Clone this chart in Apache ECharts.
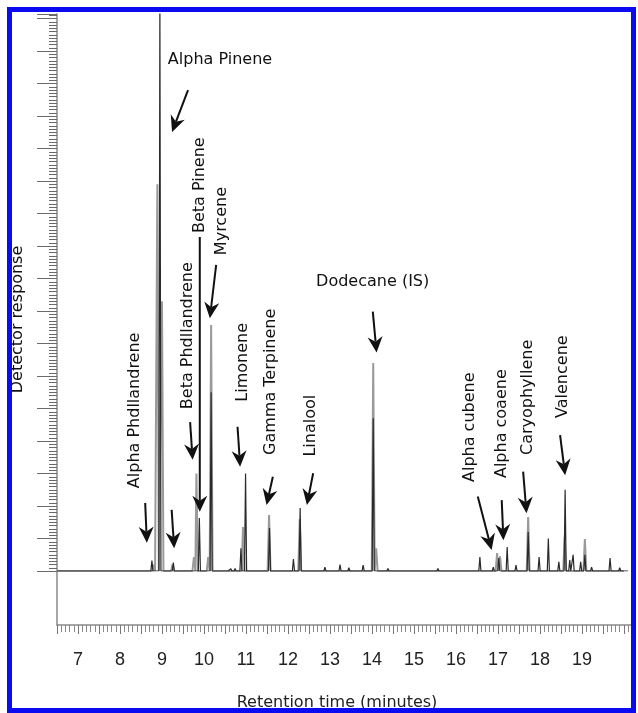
<!DOCTYPE html>
<html>
<head>
<meta charset="utf-8">
<script src="https://cdn.jsdelivr.net/npm/echarts@6/dist/echarts.min.js"></script>
<style>
html,body{margin:0;padding:0;background:#fff;}
#chart{width:638px;height:713px;}
</style>
</head>
<body>
<div id="chart"></div>
<script>
// ---- Tick labels (retention time, minutes) ----
const xTickLabels = [7, 8, 9, 10, 11, 12, 13, 14, 15, 16, 17, 18, 19];

// ---- Chromatogram traces: peak retention times (min) and heights (detector units) ----
const blackPeakTimes   = [8.76, 8.95, 9.27, 9.89, 10.17, 10.55, 10.64, 10.74, 10.88, 10.99, 11.56, 12.13, 12.29, 12.88, 13.24, 13.45, 13.79, 14.03, 14.38, 15.57, 16.57, 16.89, 17.02, 17.22, 17.43, 17.72, 17.98, 18.20, 18.45, 18.60, 18.71, 18.79, 18.97, 19.07, 19.23, 19.67, 19.90];
const blackPeakHeights = [0.32, 17.6, 0.26, 1.63, 5.5, 0.05, 0.07, 0.08, 0.7, 3.0, 1.32, 0.37, 1.94, 0.12, 0.2, 0.1, 0.18, 4.7, 0.08, 0.08, 0.43, 0.12, 0.4, 0.74, 0.18, 1.2, 0.43, 1.0, 0.28, 2.5, 0.34, 0.5, 0.28, 0.5, 0.12, 0.4, 0.1];

const greyPeakTimes   = [8.80, 8.89, 9.00, 9.25, 9.76, 9.82, 10.10, 10.17, 10.93, 11.55, 12.28, 14.03, 14.10, 16.98, 17.05, 17.72, 18.59, 19.07];
const greyPeakHeights = [0.2, 11.9, 8.3, 0.2, 0.43, 3.0, 0.43, 7.57, 1.35, 1.72, 1.6, 6.4, 0.7, 0.55, 0.45, 1.66, 1.05, 0.98];

// ---- Compound annotations ----
const compoundNames = ['Alpha Pinene', 'Beta Pinene', 'Myrcene', 'Beta Phdllandrene', 'Alpha Phdllandrene', 'Limonene', 'Gamma Terpinene', 'Linalool', 'Dodecane (IS)', 'Alpha cubene', 'Alpha coaene', 'Caryophyllene', 'Valencene'];
const labelTimes    = [9.14, 9.90, 10.43, 9.62, 8.36, 10.93, 11.60, 12.55, 12.67, 16.33, 17.10, 17.71, 18.55];
const labelLevels   = [15.72, 10.4, 9.72, 4.98, 2.55, 5.21, 3.57, 3.52, 8.89, 2.74, 2.86, 3.57, 4.71];
const labelVertical = [false, true, true, true, true, true, true, true, false, true, true, true, true];

// ---- Arrows (from -> to, in data units) ----
const arrowFromTimes  = [9.62, 9.90, 10.29, 9.67, 8.60, 9.23, 10.80, 11.64, 12.60, 14.02, 16.52, 17.09, 17.60, 18.48];
const arrowFromLevels = [14.8, 10.28, 9.42, 4.58, 2.09, 1.88, 4.44, 2.90, 3.01, 7.98, 2.29, 2.18, 3.06, 4.18];
const arrowToTimes    = [9.24, 9.90, 10.14, 9.73, 8.64, 9.29, 10.86, 11.49, 12.45, 14.11, 16.85, 17.13, 17.68, 18.60];
const arrowToLevels   = [13.51, 1.82, 7.78, 3.42, 0.87, 0.70, 3.21, 2.03, 2.03, 6.72, 0.65, 0.95, 1.78, 2.95];

const X_MIN = 6.5, X_MAX = 20.24, Y_MAX = 17.14;

function buildTrace(times, heights, halfWidth, start, end) {
  const order = times.map((t, i) => i).sort((a, b) => times[a] - times[b]);
  const pts = [[start, 0]];
  order.forEach(i => {
    pts.push([times[i] - halfWidth, 0], [times[i], heights[i]], [times[i] + halfWidth, 0]);
  });
  pts.push([end, 0]);
  return pts;
}

const chart = echarts.init(document.getElementById('chart'), null, {renderer: 'canvas'});

const option = {
  animation: false,
  backgroundColor: '#fff',
  grid: [
    {left: 57, top: 14, right: 4, bottom: 142, outerBoundsMode: 'none', containLabel: false},
    {left: 57, top: 14, right: 4, bottom: 88, outerBoundsMode: 'none', containLabel: false}
  ],
  xAxis: [
    {gridIndex: 0, type: 'value', min: X_MIN, max: X_MAX, show: false},
    {
      gridIndex: 1, type: 'value', min: X_MIN, max: X_MAX, interval: 0.5,
      axisLine: {show: true, onZero: false, lineStyle: {color: '#8a8a8a', width: 1.5}},
      axisTick: {show: true, inside: false, length: 9, lineStyle: {color: '#777'}},
      minorTick: {show: true, splitNumber: 5, length: 7, lineStyle: {color: '#8a8a8a'}},
      splitLine: {show: false},
      axisLabel: {
        margin: 26, fontFamily: 'Liberation Sans', fontSize: 18, color: '#222',
        formatter: v => {
          const r = Math.round(v);
          return (Math.abs(v - r) < 1e-6 && xTickLabels.indexOf(r) >= 0) ? String(r) : '';
        }
      },
      name: 'Retention time (minutes)', nameLocation: 'middle', nameGap: 70,
      nameTextStyle: {fontFamily: 'DejaVu Sans', fontSize: 16, color: '#222', padding: [0, 17, 0, 0]}
    }
  ],
  yAxis: [
    {
      gridIndex: 0, type: 'value', min: 0, max: Y_MAX, interval: 1,
      axisLine: {show: false},
      axisTick: {show: true, inside: false, length: 20, lineStyle: {color: '#6a6a6a'}},
      minorTick: {show: true, splitNumber: 10, length: 8, lineStyle: {color: '#6a6a6a', width: 1}},
      axisLabel: {show: false},
      splitLine: {show: false}
    },
    {
      gridIndex: 1, type: 'value', min: 0, max: 1,
      axisLine: {show: true, onZero: false, lineStyle: {color: '#8a8a8a', width: 1.5}},
      axisTick: {show: false}, axisLabel: {show: false}, splitLine: {show: false},
      name: 'Detector response', nameLocation: 'middle', nameGap: 31, nameRotate: 90,
      nameTextStyle: {fontFamily: 'DejaVu Sans', fontSize: 16, color: '#111'}
    }
  ],
  series: [
    {
      name: 'grey trace', type: 'line', xAxisIndex: 0, yAxisIndex: 0,
      data: buildTrace(greyPeakTimes, greyPeakHeights, 0.035, X_MIN, 20.0),
      showSymbol: false, symbol: 'none', silent: true, clip: true,
      lineStyle: {color: '#9a9a9a', width: 2}, z: 2
    },
    {
      name: 'black trace', type: 'line', xAxisIndex: 0, yAxisIndex: 0,
      data: buildTrace(blackPeakTimes, blackPeakHeights, 0.025, X_MIN, 20.1),
      showSymbol: false, symbol: 'none', silent: true, clip: true,
      lineStyle: {color: '#2a2a2a', width: 1.2}, z: 3
    },
    {
      name: 'arrows', type: 'custom', xAxisIndex: 0, yAxisIndex: 0, silent: true, z: 5,
      data: arrowFromTimes.map((t, i) => [t, arrowFromLevels[i], arrowToTimes[i], arrowToLevels[i]]),
      renderItem: (params, api) => {
        const p1 = api.coord([api.value(0), api.value(1)]);
        const p2 = api.coord([api.value(2), api.value(3)]);
        let dx = p2[0] - p1[0], dy = p2[1] - p1[1];
        const len = Math.hypot(dx, dy) || 1;
        dx /= len; dy /= len;
        const L = 16, W = 7.5, notch = 5;
        const bx = p2[0] - dx * L, by = p2[1] - dy * L;
        const nx = -dy, ny = dx;
        return {
          type: 'group',
          children: [
            {type: 'line', shape: {x1: p1[0], y1: p1[1], x2: bx + dx * notch, y2: by + dy * notch},
             style: {stroke: '#111', lineWidth: 2}},
            {type: 'polygon', shape: {points: [[p2[0], p2[1]], [bx + nx * W, by + ny * W], [bx + dx * notch, by + dy * notch], [bx - nx * W, by - ny * W]]},
             style: {fill: '#111'}}
          ]
        };
      }
    },
    {
      name: 'labels', type: 'custom', xAxisIndex: 0, yAxisIndex: 0, silent: true, z: 6,
      data: labelTimes.map((t, i) => [t, labelLevels[i]]),
      renderItem: (params, api) => {
        const i = params.dataIndex;
        const p = api.coord([api.value(0), api.value(1)]);
        return {
          type: 'text', x: p[0], y: p[1],
          rotation: labelVertical[i] ? Math.PI / 2 : 0,
          style: {text: compoundNames[i], fontFamily: 'DejaVu Sans', fontSize: 16, fill: '#111', align: 'left', verticalAlign: 'middle'}
        };
      }
    }
  ],
  graphic: [
    {type: 'rect', z: 100, silent: true, shape: {x: 9.5, y: 9.5, width: 624, height: 701},
     style: {fill: null, stroke: '#0b0bf2', lineWidth: 5}}
  ]
};

chart.setOption(option);
</script>
</body>
</html>
